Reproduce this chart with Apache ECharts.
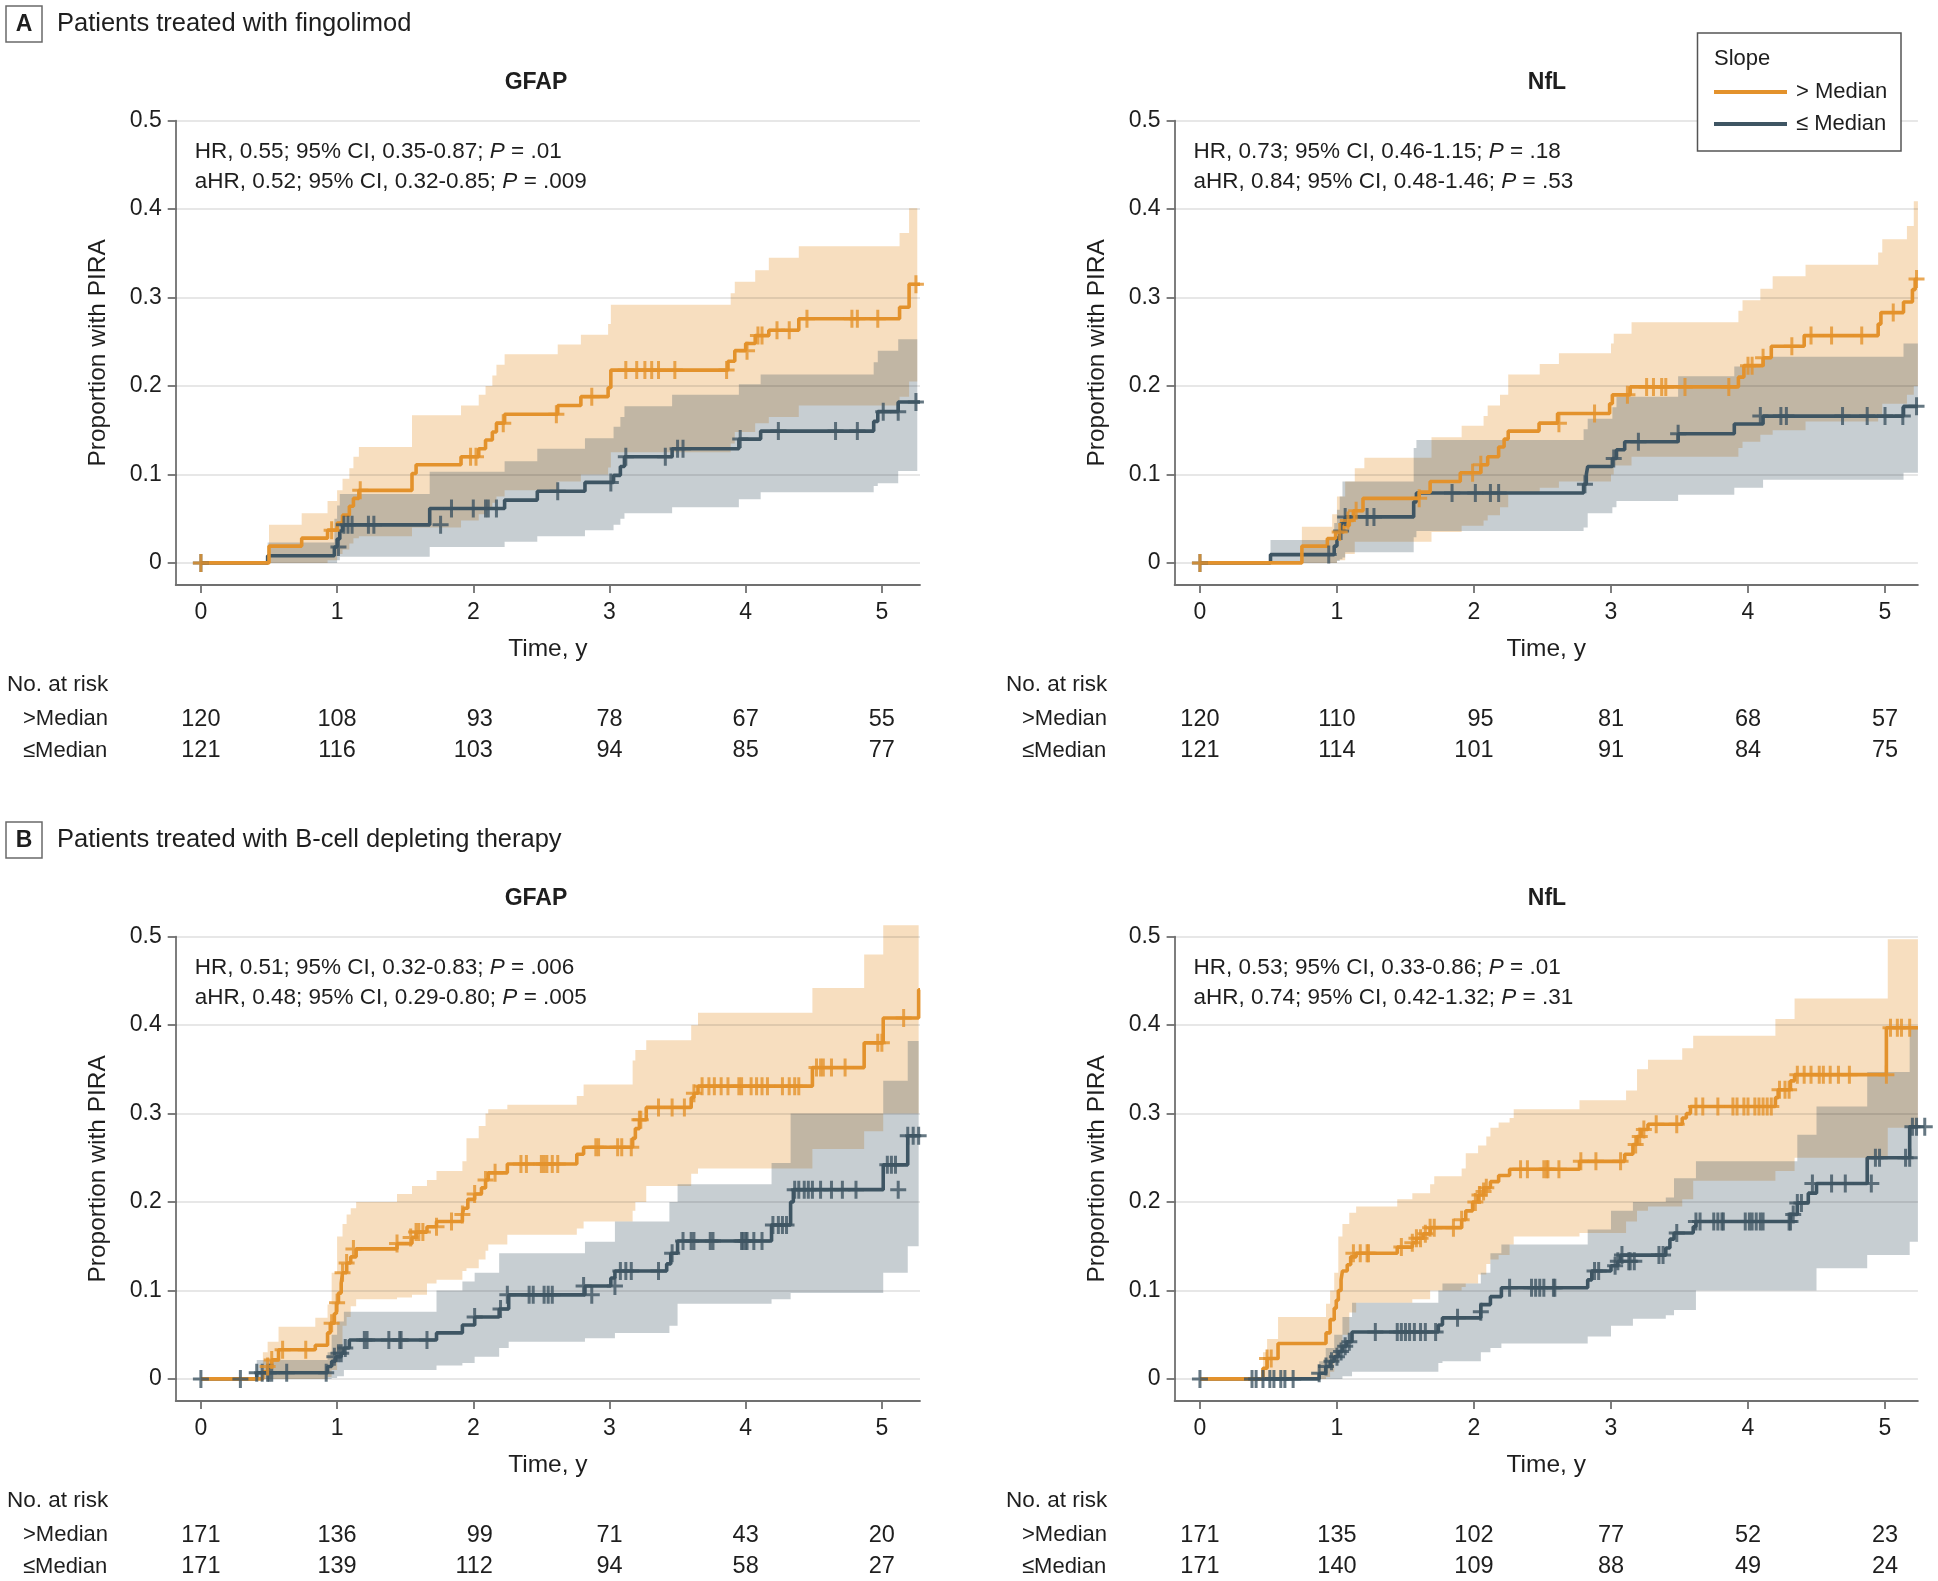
<!DOCTYPE html>
<html><head><meta charset="utf-8">
<script src="https://cdn.jsdelivr.net/npm/echarts@6/dist/echarts.min.js"></script>
<style>html,body{margin:0;padding:0;background:#fff}#c{width:1938px;height:1581px}</style>
</head><body><div id="c"></div>
<script>
// ---------- tick labels / texts ----------
const xTicks = [0, 1, 2, 3, 4, 5];
const xTickLabels = ['0', '1', '2', '3', '4', '5'];
const yTicks = [0, 0.1, 0.2, 0.3, 0.4, 0.5];
const yTickLabels = ['0', '0.1', '0.2', '0.3', '0.4', '0.5'];
const sectionLetters = ['A', 'B'];
const sectionTitles = ['Patients treated with fingolimod', 'Patients treated with B-cell depleting therapy'];
const panelTitles = ['GFAP', 'NfL', 'GFAP', 'NfL'];
const hrLines = [
  ['HR, 0.55; 95% CI, 0.35-0.87; {i|P} = .01', 'aHR, 0.52; 95% CI, 0.32-0.85; {i|P} = .009'],
  ['HR, 0.73; 95% CI, 0.46-1.15; {i|P} = .18', 'aHR, 0.84; 95% CI, 0.48-1.46; {i|P} = .53'],
  ['HR, 0.51; 95% CI, 0.32-0.83; {i|P} = .006', 'aHR, 0.48; 95% CI, 0.29-0.80; {i|P} = .005'],
  ['HR, 0.53; 95% CI, 0.33-0.86; {i|P} = .01', 'aHR, 0.74; 95% CI, 0.42-1.32; {i|P} = .31']
];
const groupNames = ['> Median', '≤ Median'];
const riskRowLabels = ['>Median', '≤Median'];
const legendTitle = 'Slope';
const xName = 'Time, y';
const yName = 'Proportion with PIRA';
const riskTitle = 'No. at risk';

// ---------- numbers at risk ----------
const riskAG = [[120, 108, 93, 78, 67, 55], [121, 116, 103, 94, 85, 77]];
const riskAN = [[120, 110, 95, 81, 68, 57], [121, 114, 101, 91, 84, 75]];
const riskBG = [[171, 136, 99, 71, 43, 20], [171, 139, 112, 94, 58, 27]];
const riskBN = [[171, 135, 102, 77, 52, 23], [171, 140, 109, 88, 49, 24]];

// ---------- Panel A, GFAP ----------
const aG_hiEst = [[0,0],[0.50,0.019],[0.74,0.028],[0.93,0.037],[1.00,0.045],[1.04,0.054],[1.09,0.064],[1.12,0.073],[1.16,0.082],[1.55,0.101],[1.58,0.111],[1.91,0.120],[2.04,0.129],[2.09,0.139],[2.14,0.148],[2.17,0.158],[2.23,0.168],[2.62,0.178],[2.79,0.188],[2.99,0.198],[3.01,0.218],[3.87,0.228],[3.92,0.240],[4.00,0.248],[4.07,0.257],[4.17,0.263],[4.39,0.276],[5.13,0.289],[5.20,0.315],[5.28,0.315]];
const aG_hiCens = [[0,0],[0.96,0.037],[1.17,0.082],[1.98,0.120],[2.02,0.120],[2.22,0.158],[2.61,0.168],[2.87,0.188],[3.12,0.218],[3.20,0.218],[3.26,0.218],[3.31,0.218],[3.36,0.218],[3.48,0.218],[3.86,0.218],[4.01,0.240],[4.09,0.257],[4.12,0.257],[4.23,0.263],[4.32,0.263],[4.45,0.276],[4.78,0.276],[4.82,0.276],[4.97,0.276],[5.25,0.315]];
const aG_hiBand = [[0.50,0.000,0.043],[0.74,0.000,0.056],[0.93,0.003,0.070],[1.00,0.010,0.082],[1.04,0.015,0.095],[1.09,0.022,0.107],[1.12,0.028,0.120],[1.16,0.030,0.131],[1.55,0.040,0.167],[1.91,0.048,0.178],[2.04,0.055,0.190],[2.09,0.062,0.200],[2.14,0.068,0.212],[2.17,0.075,0.224],[2.23,0.082,0.236],[2.62,0.092,0.247],[2.79,0.100,0.258],[2.99,0.108,0.270],[3.01,0.125,0.292],[3.89,0.135,0.305],[3.92,0.148,0.318],[4.07,0.158,0.331],[4.17,0.165,0.345],[4.39,0.178,0.358],[5.13,0.188,0.373],[5.20,0.205,0.401],[5.26,0.205,0.401]];
const aG_loEst = [[0,0],[0.49,0.008],[0.98,0.018],[1.00,0.027],[1.02,0.036],[1.04,0.043],[1.68,0.0615],[2.23,0.071],[2.47,0.081],[2.82,0.091],[3.03,0.099],[3.08,0.109],[3.11,0.120],[3.46,0.129],[3.95,0.140],[4.11,0.149],[4.94,0.160],[4.97,0.171],[5.12,0.182],[5.28,0.182]];
const aG_loCens = [[0,0],[1.01,0.018],[1.05,0.043],[1.08,0.043],[1.11,0.043],[1.23,0.043],[1.27,0.043],[1.76,0.043],[1.84,0.0615],[2.00,0.0615],[2.09,0.0615],[2.11,0.0615],[2.17,0.0615],[2.62,0.081],[3.01,0.091],[3.12,0.120],[3.41,0.120],[3.50,0.129],[3.54,0.129],[3.96,0.140],[4.24,0.149],[4.66,0.149],[4.82,0.149],[5.01,0.171],[5.12,0.171],[5.25,0.182]];
const aG_loBand = [[0.49,0.000,0.023],[0.98,0.000,0.050],[1.00,0.003,0.065],[1.02,0.007,0.078],[1.68,0.018,0.103],[2.23,0.024,0.115],[2.47,0.030,0.129],[2.82,0.037,0.141],[3.03,0.043,0.154],[3.08,0.050,0.165],[3.11,0.056,0.177],[3.46,0.063,0.190],[3.95,0.072,0.202],[4.11,0.080,0.213],[4.94,0.087,0.227],[4.97,0.090,0.240],[5.12,0.104,0.253],[5.26,0.104,0.253]];

// ---------- Panel A, NfL ----------
const aN_hiEst = [[0,0],[0.744,0.019],[0.93,0.0275],[0.99,0.035],[1.05,0.042],[1.09,0.048],[1.12,0.059],[1.19,0.073],[1.60,0.080],[1.68,0.092],[1.90,0.102],[2.05,0.111],[2.10,0.120],[2.18,0.131],[2.22,0.140],[2.25,0.149],[2.475,0.158],[2.61,0.169],[2.99,0.180],[3.01,0.190],[3.14,0.199],[3.93,0.210],[3.97,0.223],[4.11,0.232],[4.17,0.245],[4.41,0.257],[4.95,0.270],[4.97,0.283],[5.135,0.295],[5.20,0.309],[5.22,0.321],[5.24,0.321]];
const aN_hiCens = [[0,0],[1.02,0.035],[1.08,0.048],[1.14,0.059],[1.60,0.073],[1.99,0.102],[2.05,0.111],[2.62,0.158],[2.88,0.169],[3.12,0.190],[3.26,0.199],[3.31,0.199],[3.37,0.199],[3.40,0.199],[3.54,0.199],[3.86,0.199],[4.00,0.223],[4.03,0.223],[4.11,0.232],[4.32,0.245],[4.46,0.257],[4.61,0.257],[4.83,0.257],[5.06,0.283],[5.23,0.321]];
const aN_hiBand = [[0.744,0.000,0.041],[0.965,0.000,0.055],[1.00,0.003,0.075],[1.06,0.010,0.092],[1.13,0.024,0.107],[1.20,0.024,0.119],[1.69,0.035,0.142],[1.91,0.042,0.155],[2.07,0.048,0.166],[2.10,0.054,0.178],[2.19,0.063,0.190],[2.25,0.078,0.213],[2.48,0.085,0.225],[2.62,0.092,0.237],[3.00,0.100,0.248],[3.02,0.110,0.259],[3.15,0.120,0.272],[3.93,0.130,0.285],[3.96,0.137,0.297],[4.09,0.145,0.310],[4.18,0.150,0.324],[4.42,0.160,0.337],[4.95,0.168,0.351],[4.98,0.180,0.366],[5.16,0.190,0.381],[5.21,0.200,0.409],[5.24,0.200,0.409]];
const aN_loEst = [[0,0],[0.515,0.0094],[0.98,0.019],[1.00,0.028],[1.02,0.036],[1.04,0.045],[1.06,0.052],[1.56,0.069],[1.58,0.079],[2.80,0.089],[2.82,0.100],[2.83,0.109],[3.01,0.118],[3.04,0.128],[3.10,0.137],[3.49,0.146],[3.90,0.157],[4.11,0.166],[5.135,0.177],[5.24,0.177]];
const aN_loCens = [[0,0],[0.94,0.0094],[1.03,0.036],[1.06,0.052],[1.22,0.052],[1.27,0.052],[1.84,0.079],[2.01,0.079],[2.12,0.079],[2.18,0.079],[2.81,0.089],[3.02,0.118],[3.20,0.137],[3.49,0.146],[4.09,0.166],[4.24,0.166],[4.28,0.166],[4.69,0.166],[4.87,0.166],[5.00,0.166],[5.13,0.166],[5.23,0.177]];
const aN_loBand = [[0.515,0.000,0.026],[0.98,0.000,0.045],[1.00,0.002,0.060],[1.02,0.004,0.075],[1.04,0.006,0.092],[1.06,0.012,0.092],[1.56,0.029,0.130],[1.58,0.036,0.139],[2.80,0.040,0.151],[2.83,0.056,0.163],[3.01,0.063,0.176],[3.04,0.070,0.188],[3.49,0.077,0.211],[3.90,0.085,0.222],[4.11,0.094,0.233],[5.135,0.102,0.248],[5.24,0.102,0.248]];

// ---------- Panel B, GFAP ----------
const bG_hiEst = [[0,0],[0.455,0.008],[0.49,0.014],[0.52,0.0215],[0.57,0.033],[0.84,0.038],[0.93,0.052],[0.95,0.063],[0.98,0.074],[0.995,0.086],[1.01,0.097],[1.03,0.108],[1.04,0.120],[1.07,0.131],[1.10,0.138],[1.14,0.147],[1.44,0.153],[1.55,0.160],[1.58,0.166],[1.66,0.172],[1.73,0.178],[1.92,0.186],[1.93,0.193],[1.96,0.203],[2.01,0.209],[2.06,0.216],[2.09,0.225],[2.11,0.233],[2.25,0.243],[2.76,0.254],[2.81,0.262],[3.17,0.272],[3.19,0.283],[3.22,0.293],[3.27,0.307],[3.60,0.318],[3.62,0.323],[3.65,0.331],[4.49,0.352],[4.87,0.380],[5.01,0.408],[5.27,0.440],[5.28,0.440]];
const bG_hiCens = [[0.49,0.014],[0.52,0.0215],[0.60,0.033],[0.77,0.033],[0.96,0.063],[1.00,0.086],[1.04,0.120],[1.07,0.131],[1.12,0.147],[1.44,0.153],[1.54,0.160],[1.58,0.166],[1.60,0.166],[1.63,0.166],[1.73,0.172],[1.84,0.178],[1.92,0.186],[2.01,0.209],[2.09,0.225],[2.16,0.233],[2.35,0.243],[2.39,0.243],[2.50,0.243],[2.52,0.243],[2.54,0.243],[2.58,0.243],[2.62,0.243],[2.90,0.262],[2.92,0.262],[3.06,0.262],[3.09,0.262],[3.16,0.262],[3.22,0.293],[3.23,0.293],[3.36,0.307],[3.46,0.307],[3.55,0.307],[3.62,0.323],[3.68,0.331],[3.73,0.331],[3.77,0.331],[3.82,0.331],[3.87,0.331],[3.95,0.331],[3.97,0.331],[4.04,0.331],[4.08,0.331],[4.12,0.331],[4.16,0.331],[4.27,0.331],[4.32,0.331],[4.36,0.331],[4.39,0.331],[4.52,0.352],[4.55,0.352],[4.57,0.352],[4.63,0.352],[4.73,0.352],[4.97,0.380],[5.00,0.380],[5.16,0.408]];
const bG_hiBand = [[0.455,0.000,0.030],[0.49,0.000,0.042],[0.57,0.000,0.059],[0.84,0.000,0.069],[0.93,0.002,0.084],[0.96,0.010,0.120],[1.00,0.030,0.161],[1.04,0.060,0.175],[1.07,0.070,0.186],[1.10,0.082,0.193],[1.14,0.090,0.200],[1.44,0.092,0.209],[1.55,0.095,0.218],[1.66,0.108,0.225],[1.73,0.112,0.235],[1.92,0.122,0.246],[1.95,0.125,0.272],[2.04,0.135,0.286],[2.09,0.145,0.300],[2.11,0.152,0.305],[2.25,0.163,0.310],[2.76,0.170,0.320],[2.81,0.178,0.333],[3.17,0.190,0.360],[3.19,0.200,0.372],[3.27,0.218,0.383],[3.60,0.232,0.400],[3.65,0.238,0.414],[4.49,0.260,0.442],[4.87,0.280,0.480],[5.01,0.300,0.513],[5.27,0.300,0.513]];
const bG_loEst = [[0,0],[0.41,0.007],[0.93,0.014],[0.96,0.020],[0.99,0.025],[1.03,0.029],[1.05,0.035],[1.09,0.044],[1.73,0.052],[1.92,0.061],[2.01,0.070],[2.19,0.079],[2.26,0.095],[2.82,0.105],[3.01,0.114],[3.04,0.122],[3.42,0.130],[3.45,0.142],[3.50,0.156],[4.19,0.174],[4.33,0.200],[4.35,0.214],[5.01,0.242],[5.19,0.275],[5.28,0.275]];
const bG_loCens = [[0,0],[0.29,0],[0.41,0.007],[0.45,0.007],[0.49,0.007],[0.50,0.007],[0.52,0.007],[0.63,0.007],[0.92,0.007],[0.98,0.025],[1.01,0.029],[1.03,0.029],[1.06,0.035],[1.20,0.044],[1.22,0.044],[1.38,0.044],[1.46,0.044],[1.47,0.044],[1.66,0.044],[2.01,0.070],[2.20,0.079],[2.25,0.095],[2.41,0.095],[2.44,0.095],[2.52,0.095],[2.55,0.095],[2.58,0.095],[2.81,0.105],[2.87,0.095],[3.04,0.105],[3.08,0.122],[3.12,0.122],[3.16,0.122],[3.36,0.122],[3.46,0.142],[3.54,0.156],[3.60,0.156],[3.62,0.156],[3.74,0.156],[3.76,0.156],[3.97,0.156],[3.98,0.156],[4.00,0.156],[4.01,0.156],[4.06,0.156],[4.12,0.156],[4.20,0.174],[4.24,0.174],[4.27,0.174],[4.30,0.174],[4.36,0.214],[4.39,0.214],[4.43,0.214],[4.46,0.214],[4.49,0.214],[4.55,0.214],[4.63,0.214],[4.71,0.214],[4.81,0.214],[5.12,0.214],[5.04,0.242],[5.07,0.242],[5.10,0.242],[5.19,0.275],[5.23,0.275],[5.27,0.275]];
const bG_loBand = [[0.41,0.000,0.0215],[0.93,0.000,0.030],[0.96,0.001,0.050],[1.00,0.003,0.065],[1.05,0.010,0.076],[1.73,0.015,0.100],[1.92,0.018,0.110],[2.01,0.025,0.120],[2.19,0.035,0.142],[2.26,0.042,0.142],[2.82,0.046,0.155],[3.04,0.052,0.178],[3.44,0.060,0.200],[3.50,0.085,0.220],[4.19,0.090,0.244],[4.33,0.097,0.300],[5.01,0.120,0.337],[5.19,0.150,0.382],[5.27,0.150,0.382]];

// ---------- Panel B, NfL ----------
const bN_hiEst = [[0,0],[0.46,0.012],[0.49,0.023],[0.57,0.040],[0.92,0.052],[0.95,0.067],[0.98,0.080],[0.995,0.089],[1.01,0.100],[1.03,0.112],[1.04,0.122],[1.075,0.129],[1.10,0.138],[1.14,0.142],[1.44,0.149],[1.55,0.154],[1.58,0.159],[1.63,0.164],[1.68,0.171],[1.91,0.180],[1.94,0.190],[1.99,0.200],[2.03,0.208],[2.07,0.216],[2.12,0.223],[2.18,0.230],[2.26,0.237],[2.77,0.246],[3.10,0.254],[3.16,0.265],[3.19,0.274],[3.22,0.282],[3.27,0.288],[3.52,0.295],[3.55,0.300],[3.58,0.308],[4.20,0.318],[4.22,0.327],[4.31,0.337],[4.34,0.344],[5.01,0.397],[5.24,0.397]];
const bN_hiCens = [[0.49,0.023],[0.52,0.023],[1.12,0.142],[1.17,0.142],[1.22,0.142],[1.23,0.142],[1.47,0.149],[1.55,0.154],[1.58,0.159],[1.61,0.159],[1.645,0.164],[1.68,0.171],[1.71,0.171],[1.85,0.171],[1.91,0.180],[2.01,0.200],[2.04,0.208],[2.07,0.212],[2.09,0.216],[2.34,0.237],[2.39,0.237],[2.51,0.237],[2.53,0.237],[2.54,0.237],[2.62,0.237],[2.78,0.246],[2.89,0.246],[3.07,0.246],[3.18,0.265],[3.21,0.274],[3.24,0.282],[3.33,0.288],[3.48,0.288],[3.62,0.308],[3.67,0.308],[3.78,0.308],[3.89,0.308],[3.92,0.308],[3.97,0.308],[4.00,0.308],[4.05,0.308],[4.08,0.308],[4.11,0.308],[4.14,0.308],[4.17,0.308],[4.23,0.327],[4.27,0.327],[4.30,0.327],[4.36,0.344],[4.41,0.344],[4.46,0.344],[4.52,0.344],[4.55,0.344],[4.60,0.344],[4.66,0.344],[4.74,0.344],[5.01,0.344],[5.04,0.397],[5.09,0.397],[5.12,0.397],[5.18,0.397]];
const bN_hiBand = [[0.46,0.000,0.030],[0.49,0.000,0.045],[0.57,0.000,0.070],[0.92,0.002,0.085],[0.95,0.008,0.100],[0.98,0.020,0.120],[1.01,0.035,0.161],[1.04,0.050,0.175],[1.09,0.075,0.188],[1.14,0.086,0.195],[1.44,0.086,0.203],[1.55,0.090,0.210],[1.68,0.100,0.220],[1.71,0.100,0.229],[1.91,0.104,0.238],[1.94,0.108,0.255],[2.03,0.118,0.264],[2.09,0.130,0.274],[2.12,0.135,0.284],[2.18,0.140,0.290],[2.26,0.152,0.295],[2.29,0.161,0.305],[2.77,0.165,0.315],[3.11,0.178,0.326],[3.19,0.190,0.350],[3.27,0.195,0.361],[3.52,0.203,0.374],[3.60,0.224,0.388],[4.20,0.235,0.407],[4.34,0.250,0.430],[5.02,0.284,0.497],[5.24,0.284,0.497]];
const bN_loEst = [[0,0],[0.87,0.0064],[0.918,0.014],[0.95,0.020],[0.98,0.025],[1.01,0.031],[1.04,0.037],[1.07,0.042],[1.11,0.053],[1.74,0.061],[1.77,0.069],[2.05,0.084],[2.12,0.093],[2.20,0.103],[2.83,0.112],[2.86,0.122],[3.00,0.128],[3.05,0.133],[3.07,0.140],[3.40,0.148],[3.43,0.158],[3.46,0.165],[3.60,0.172],[3.62,0.178],[4.31,0.186],[4.36,0.199],[4.44,0.210],[4.50,0.221],[4.87,0.250],[5.18,0.285],[5.24,0.285]];
const bN_loCens = [[0,0],[0.38,0],[0.41,0],[0.46,0],[0.51,0],[0.54,0],[0.59,0],[0.62,0],[0.68,0],[0.87,0.0064],[0.92,0.014],[0.96,0.020],[1.00,0.025],[1.03,0.031],[1.06,0.037],[1.09,0.042],[1.28,0.053],[1.44,0.053],[1.47,0.053],[1.50,0.053],[1.53,0.053],[1.565,0.053],[1.61,0.053],[1.645,0.053],[1.72,0.053],[1.88,0.069],[2.05,0.076],[2.26,0.103],[2.42,0.103],[2.45,0.103],[2.48,0.103],[2.51,0.103],[2.58,0.103],[2.59,0.103],[2.88,0.122],[2.91,0.122],[3.03,0.128],[3.05,0.133],[3.08,0.140],[3.13,0.133],[3.14,0.133],[3.17,0.133],[3.35,0.140],[3.38,0.140],[3.48,0.165],[3.62,0.178],[3.65,0.178],[3.75,0.178],[3.78,0.178],[3.81,0.178],[3.82,0.178],[3.98,0.178],[4.01,0.178],[4.03,0.178],[4.06,0.178],[4.09,0.178],[4.11,0.178],[4.30,0.178],[4.31,0.178],[4.33,0.186],[4.36,0.199],[4.39,0.199],[4.47,0.221],[4.61,0.221],[4.71,0.221],[4.90,0.221],[4.93,0.250],[4.96,0.250],[5.15,0.250],[5.18,0.250],[5.20,0.285],[5.23,0.285],[5.29,0.285]];
const bN_loBand = [[0.87,0.000,0.020],[0.918,0.000,0.035],[0.98,0.000,0.050],[1.04,0.003,0.070],[1.11,0.008,0.086],[1.74,0.018,0.100],[1.77,0.020,0.108],[2.05,0.030,0.120],[2.12,0.035,0.142],[2.20,0.040,0.152],[2.83,0.048,0.169],[3.00,0.060,0.190],[3.16,0.068,0.200],[3.40,0.072,0.205],[3.46,0.078,0.227],[3.62,0.100,0.246],[4.36,0.100,0.276],[4.50,0.125,0.308],[4.87,0.140,0.347],[5.18,0.155,0.397],[5.24,0.155,0.397]];

// ---------- assembly ----------
const panelData = [
  {hiEst: aG_hiEst, hiCens: aG_hiCens, hiBand: aG_hiBand, loEst: aG_loEst, loCens: aG_loCens, loBand: aG_loBand, risk: riskAG},
  {hiEst: aN_hiEst, hiCens: aN_hiCens, hiBand: aN_hiBand, loEst: aN_loEst, loCens: aN_loCens, loBand: aN_loBand, risk: riskAN},
  {hiEst: bG_hiEst, hiCens: bG_hiCens, hiBand: bG_hiBand, loEst: bG_loEst, loCens: bG_loCens, loBand: bG_loBand, risk: riskBG},
  {hiEst: bN_hiEst, hiCens: bN_hiCens, hiBand: bN_hiBand, loEst: bN_loEst, loCens: bN_loCens, loBand: bN_loBand, risk: riskBN}
];
const layout = [
  {left: 175.7, top: 120.7, width: 744.3, xmin: -0.185, xmax: 5.28, titleX: 536, riskLeft: 7, rowLeft: 23},
  {left: 1174.6, top: 120.7, width: 743.3, xmin: -0.185, xmax: 5.24, titleX: 1547, riskLeft: 1006, rowLeft: 1022},
  {left: 175.7, top: 936.7, width: 744.3, xmin: -0.185, xmax: 5.28, titleX: 536, riskLeft: 7, rowLeft: 23},
  {left: 1174.6, top: 936.7, width: 743.3, xmin: -0.185, xmax: 5.24, titleX: 1547, riskLeft: 1006, rowLeft: 1022}
];
const GH = 464.3;
const ORANGE = '#E3922C', SLATE = '#3E5563', TXT = '#1e1e1e', AXIS = '#707070';
const ORANGE_FILL = 'rgba(227,146,44,0.30)', SLATE_FILL = 'rgba(62,85,99,0.29)';
const FONT = '"Liberation Sans", Arial, sans-serif';
const PLUS = 'path://M6.5,0h3v18h-3z M0,7.5h16v3h-16z';

const chart = echarts.init(document.getElementById('c'), null, {renderer: 'canvas'});

// band polygon: step-shaped CI drawn through the axis scales (api.coord)
function bandRender(fill) {
  return function (params, api) {
    if (params.dataIndexInside !== 0) return null;
    const n = params.dataInsideLength;
    const T = [], LO = [], HI = [];
    for (let k = 0; k < n; k++) { T.push(api.value(0, k)); LO.push(api.value(1, k)); HI.push(api.value(2, k)); }
    const pts = [];
    for (let k = 0; k < n; k++) {
      pts.push(api.coord([T[k], HI[k]]));
      if (k < n - 1) pts.push(api.coord([T[k + 1], HI[k]]));
    }
    for (let k = n - 1; k >= 0; k--) {
      if (k < n - 1) pts.push(api.coord([T[k + 1], LO[k]]));
      pts.push(api.coord([T[k], LO[k]]));
    }
    return {type: 'polygon', shape: {points: pts}, style: {fill: fill, stroke: null}, silent: true};
  };
}

const grids = [], xAxes = [], yAxes = [], series = [];
function tickFmt(ticks, labels) {
  return v => { for (let k = 0; k < ticks.length; k++) if (Math.abs(ticks[k] - v) < 1e-9) return labels[k]; return ''; };
}
layout.forEach((L, i) => {
  grids.push({left: L.left, top: L.top, width: L.width, height: GH, outerBoundsMode: 'none', containLabel: false});
  xAxes.push({
    type: 'value', gridIndex: i, min: L.xmin, max: L.xmax,
    axisLine: {show: true, onZero: false, lineStyle: {color: AXIS, width: 1.8}},
    axisTick: {show: true, length: 8, customValues: xTicks, lineStyle: {color: AXIS, width: 1.8}},
    axisLabel: {show: true, customValues: xTicks, formatter: tickFmt(xTicks, xTickLabels), margin: 16, fontSize: 23, fontFamily: FONT, color: TXT},
    splitLine: {show: false},
    name: xName, nameLocation: 'middle', nameGap: 52,
    nameTextStyle: {fontSize: 24.5, fontFamily: FONT, color: TXT}
  });
  yAxes.push({
    type: 'value', gridIndex: i, min: -0.025, max: 0.5,
    axisLine: {show: true, onZero: false, lineStyle: {color: AXIS, width: 1.8}},
    axisTick: {show: true, length: 8, customValues: yTicks, lineStyle: {color: AXIS, width: 1.8}},
    axisLabel: {show: true, customValues: yTicks, formatter: tickFmt(yTicks, yTickLabels), margin: 14, fontSize: 23, fontFamily: FONT, color: TXT},
    splitLine: {show: false},
    name: yName, nameLocation: 'middle', nameGap: 65,
    nameTextStyle: {fontSize: 24.5, fontFamily: FONT, color: TXT}
  });
  const D = panelData[i];
  series.push({type: 'custom', xAxisIndex: i, yAxisIndex: i, z: 1, silent: true, clip: false,
    renderItem: bandRender(ORANGE_FILL), encode: {x: 0, y: [1, 2]}, data: D.hiBand});
  series.push({type: 'custom', xAxisIndex: i, yAxisIndex: i, z: 1, silent: true, clip: false,
    renderItem: bandRender(SLATE_FILL), encode: {x: 0, y: [1, 2]}, data: D.loBand});
  // gridlines drawn over the bands
  series.push({type: 'line', xAxisIndex: i, yAxisIndex: i, data: [[0, 0]], symbol: 'none', silent: true, z: 1,
    lineStyle: {width: 0, opacity: 0},
    markLine: {silent: true, z: 2, symbol: 'none', label: {show: false}, animation: false,
      lineStyle: {color: 'rgba(0,0,0,0.13)', width: 1.6, type: 'solid'},
      data: yTicks.map(v => ({yAxis: v}))}});
  series.push({name: groupNames[1], type: 'line', xAxisIndex: i, yAxisIndex: i, step: 'end', symbol: 'none', z: 3,
    color: SLATE, lineStyle: {color: SLATE, width: 3.6}, data: D.loEst});
  series.push({name: groupNames[0], type: 'line', xAxisIndex: i, yAxisIndex: i, step: 'end', symbol: 'none', z: 3,
    color: ORANGE, lineStyle: {color: ORANGE, width: 3.6}, data: D.hiEst});
  series.push({type: 'scatter', xAxisIndex: i, yAxisIndex: i, symbol: PLUS, symbolSize: [16, 18], z: 4, clip: false, silent: true,
    itemStyle: {color: SLATE}, data: D.loCens});
  series.push({type: 'scatter', xAxisIndex: i, yAxisIndex: i, symbol: PLUS, symbolSize: [16, 18], z: 4, clip: false, silent: true,
    itemStyle: {color: ORANGE}, data: D.hiCens});
});

chart.setOption({
  animation: false,
  backgroundColor: '#fff',
  grid: grids, xAxis: xAxes, yAxis: yAxes, series: series,
  legend: {
    data: groupNames, orient: 'vertical', left: 1714, top: 80, itemWidth: 73, itemHeight: 3.8, itemGap: 8,
    icon: 'rect', padding: 0, selectedMode: false, z: 20,
    textStyle: {fontFamily: FONT, fontSize: 22, color: TXT, lineHeight: 24, padding: [0, 0, 0, 4]}
  }
});

// ---------- texts ----------
const mctx = document.createElement('canvas').getContext('2d');
function textW(s, size) { mctx.font = size + 'px ' + FONT; return mctx.measureText(s).width; }
function txt(x, y, s, size, align, extra) {
  return {type: 'text', z: 30, silent: true,
    style: Object.assign({x: x, y: y, text: s, fontSize: size, fontFamily: FONT, fill: TXT,
      align: align, textAlign: align, verticalAlign: 'middle', textVerticalAlign: 'middle'}, extra || {})};
}
const g = [];
[0, 1].forEach(s => {
  const cy = s === 0 ? 24 : 840;
  g.push({type: 'rect', z: 10, silent: true, shape: {x: 6, y: cy - 18, width: 36, height: 36},
    style: {fill: '#fff', stroke: '#6a6a6a', lineWidth: 1.5}});
  g.push(txt(24, cy + 1, sectionLetters[s], 23, 'center', {fontWeight: 'bold'}));
  g.push(txt(57, cy, sectionTitles[s], 25.5, 'left'));
});
layout.forEach((L, i) => {
  g.push(txt(L.titleX, L.top - 38.2, panelTitles[i], 23, 'center', {fontWeight: 'bold'}));
  hrLines[i].forEach((line, k) => {
    g.push(txt(L.left + 19, L.top + 31 + k * 30.5, line, 22.5, 'left',
      {rich: {i: {fontStyle: 'italic', fontSize: 22.5, fontFamily: FONT, fill: TXT}}}));
  });
  g.push(txt(L.riskLeft, L.top + 564.5, riskTitle, 22.5, 'left'));
  const rowY = [L.top + 598.5, L.top + 630];
  riskRowLabels.forEach((lab, r) => g.push(txt(L.rowLeft, rowY[r], lab, 22, 'left')));
  const risk = panelData[i].risk;
  xTicks.forEach((t, j) => {
    const px = chart.convertToPixel({xAxisIndex: i}, t);
    const a = String(risk[0][j]), b = String(risk[1][j]);
    const mixed = a.length !== b.length;
    const maxLen = Math.max(a.length, b.length);
    [a, b].forEach((s, r) => {
      if (mixed) g.push(txt(px + textW('0'.repeat(maxLen), 23.5) / 2, rowY[r], s, 23.5, 'right'));
      else g.push(txt(px, rowY[r], s, 23.5, 'center'));
    });
  });
});
g.push({type: 'rect', z: 10, silent: true, shape: {x: 1697.5, y: 33, width: 203.5, height: 118},
  style: {fill: '#fff', stroke: '#555', lineWidth: 1.5}});
g.push(txt(1714, 59, legendTitle, 22, 'left'));

chart.setOption({graphic: {elements: g}});
</script>
</body></html>
